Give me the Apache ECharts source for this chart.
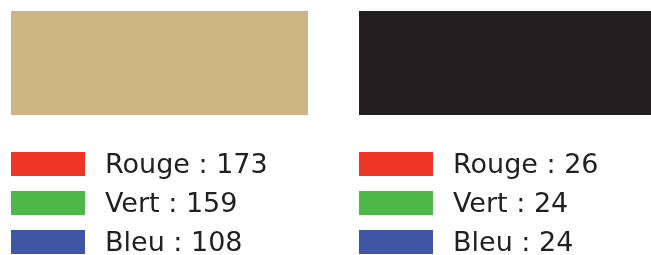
<!DOCTYPE html>
<html>
<head>
<meta charset="utf-8">
<script src="https://cdn.jsdelivr.net/npm/echarts@6/dist/echarts.min.js"></script>
<style>
  html, body { margin: 0; padding: 0; background: #fff; }
  #chart { width: 651px; height: 255px; }
</style>
</head>
<body>
<div id="chart"></div>
<script>
// two colour samples and their RGB readings
const swatchColors = ["#CDB584", "#231F20"];
const channelNames = ["Rouge", "Vert", "Bleu"];
const channelColors = ["#EF3524", "#4EB848", "#3E56A4"];
const redValues = [173, 26];
const greenValues = [159, 24];
const blueValues = [108, 24];

const chart = echarts.init(document.getElementById("chart"));

const data = swatchColors.map((c, i) => [i, redValues[i], greenValues[i], blueValues[i]]);

const colLeft = [11, 359];
const colWidth = [297, 292];

function renderItem(params, api) {
  const i = api.value(0);
  const x = colLeft[i];
  const children = [
    {
      type: "rect",
      shape: { x: x, y: 11, width: colWidth[i], height: 104 },
      style: { fill: swatchColors[i] },
    },
  ];
  for (let k = 0; k < 3; k++) {
    const y = 152 + k * 39;
    children.push({
      type: "rect",
      shape: { x: x, y: y, width: 74, height: 24 },
      style: { fill: channelColors[k] },
    });
    children.push({
      type: "text",
      x: x + 94,
      y: y + 14,
      style: {
        text: channelNames[k] + " : " + api.value(k + 1),
        fill: "#231F20",
        font: "27px 'DejaVu Sans'",
        verticalAlign: "middle",
        align: "left",
      },
    });
  }
  return { type: "group", children: children };
}

chart.setOption({
  animation: false,
  series: [
    {
      type: "custom",
      coordinateSystem: "none",
      renderItem: renderItem,
      data: data,
    },
  ],
});
</script>
</body>
</html>
